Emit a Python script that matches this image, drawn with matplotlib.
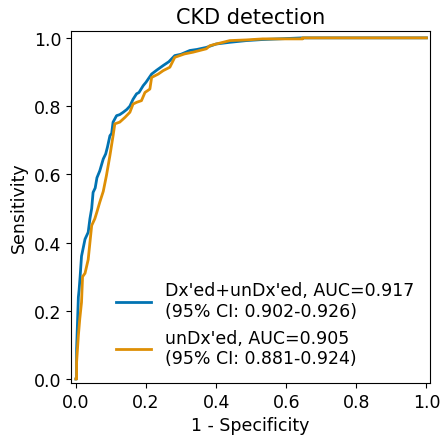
import matplotlib
matplotlib.use("Agg")
import matplotlib.pyplot as plt
import seaborn as sns

# ROC operating points (false positive rate, true positive rate)
fpr_all = [0.0, 0.002, 0.002, 0.007, 0.009, 0.012, 0.016, 0.020, 0.026, 0.035,
           0.040, 0.045, 0.049, 0.055, 0.060, 0.068, 0.078, 0.085, 0.090,
           0.097, 0.102, 0.106, 0.116, 0.125, 0.135, 0.145, 0.154, 0.163,
           0.173, 0.180, 0.192, 0.200, 0.216, 0.230, 0.249, 0.265, 0.282,
           0.300, 0.325, 0.345, 0.372, 0.400, 0.439, 0.486, 0.530, 0.600,
           0.647, 1.0]
tpr_all = [0.0, 0.0, 0.088, 0.24, 0.26, 0.30, 0.36, 0.38, 0.41, 0.43,
           0.47, 0.50, 0.547, 0.56, 0.59, 0.61, 0.645, 0.66, 0.68,
           0.713, 0.72, 0.753, 0.772, 0.775, 0.782, 0.79, 0.80, 0.82,
           0.836, 0.84, 0.86, 0.87, 0.894, 0.905, 0.919, 0.93, 0.948,
           0.952, 0.963, 0.966, 0.972, 0.982, 0.987, 0.992, 0.995, 0.998,
           1.0, 1.0]

fpr_undx = [0.0, 0.002, 0.002, 0.007, 0.011, 0.016, 0.019, 0.026, 0.035,
            0.045, 0.054, 0.060, 0.068, 0.078, 0.087, 0.097, 0.106, 0.111,
            0.125, 0.140, 0.154, 0.163, 0.173, 0.187, 0.197, 0.211, 0.216,
            0.235, 0.249, 0.268, 0.282, 0.310, 0.334, 0.372, 0.382, 0.400,
            0.439, 0.486, 0.533, 0.647, 0.647, 1.0]
tpr_undx = [0.0, 0.0, 0.05, 0.127, 0.176, 0.225, 0.30, 0.31, 0.35,
            0.45, 0.47, 0.49, 0.518, 0.55, 0.596, 0.655, 0.713, 0.748,
            0.753, 0.767, 0.782, 0.806, 0.811, 0.816, 0.84, 0.85, 0.884,
            0.894, 0.904, 0.914, 0.943, 0.953, 0.958, 0.968, 0.977, 0.982,
            0.992, 0.994, 0.997, 0.997, 1.0, 1.0]

labels = ["Dx'ed+unDx'ed, AUC=0.917\n(95% CI: 0.902-0.926)",
          "unDx'ed, AUC=0.905\n(95% CI: 0.881-0.924)"]

colors = sns.color_palette("colorblind")
plt.rcParams["font.family"] = ["DejaVu Sans"]
plt.rcParams["font.size"] = 12.5

fig, ax = plt.subplots(figsize=(4.41, 4.39), dpi=100)
fig.subplots_adjust(left=0.161, right=0.975, top=0.927, bottom=0.125)

ax.plot(fpr_all, tpr_all, color=colors[0], linewidth=2, label=labels[0])
ax.plot(fpr_undx, tpr_undx, color=colors[1], linewidth=2, label=labels[1])

ax.set_xlim(-0.014, 1.01)
ax.set_ylim(-0.012, 1.02)
ax.set_xticks([0.0, 0.2, 0.4, 0.6, 0.8, 1.0])
ax.set_yticks([0.0, 0.2, 0.4, 0.6, 0.8, 1.0])
ax.set_xlabel("1 - Specificity")
ax.set_ylabel("Sensitivity")
ax.set_title("CKD detection")
ax.legend(loc="lower right", frameon=False)

fig.savefig("out.png", dpi=100)
